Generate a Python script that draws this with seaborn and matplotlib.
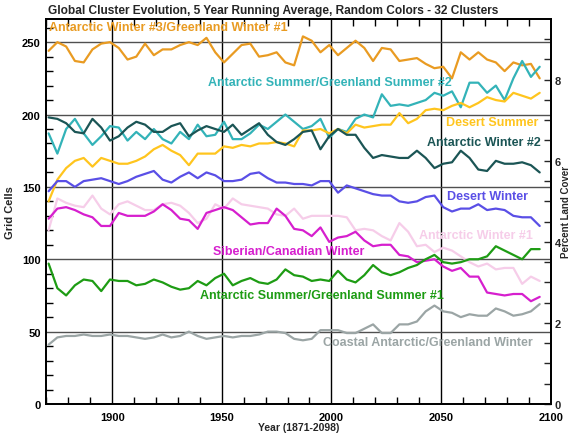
import numpy as np
import pandas as pd
import matplotlib.pyplot as plt
import seaborn as sns
from matplotlib.ticker import MultipleLocator

# Data (every 4 years)
years = np.arange(1871, 2096, 4)

aw3_gw1 = [244, 250, 247, 237, 236, 245, 249, 250, 246, 238, 240, 249, 241, 245, 245, 248,
           250, 248, 253, 243, 236, 242, 248, 249, 240, 241, 243, 236, 234, 254, 251, 243,
           248, 241, 246, 251, 246, 237, 246, 245, 237, 238, 239, 235, 232, 233, 225, 243,
           238, 243, 238, 236, 230, 236, 234, 235, 225]
as_gs2 = [187, 173, 190, 197, 187, 179, 185, 192, 191, 182, 188, 183, 190, 183, 180, 188,
          183, 193, 185, 186, 195, 183, 183, 187, 193, 190, 195, 200, 195, 190, 192, 197,
          184, 190, 188, 197, 200, 198, 214, 206, 207, 206, 208, 210, 215, 213, 216, 205,
          222, 222, 215, 220, 210, 225, 237, 226, 233]
desert_summer = [140, 155, 163, 168, 170, 164, 170, 168, 166, 166, 168, 171, 176, 179, 175, 172,
                 165, 173, 173, 173, 178, 177, 179, 178, 180, 180, 181, 180, 178, 189, 189, 190,
                 187, 190, 187, 193, 191, 192, 193, 193, 201, 194, 197, 203, 204, 203, 206, 208,
                 205, 208, 212, 210, 209, 215, 213, 211, 215]
aw2 = [198, 197, 194, 188, 187, 197, 191, 182, 185, 191, 195, 193, 188, 188, 192, 194,
       185, 189, 192, 190, 188, 193, 186, 190, 194, 186, 181, 179, 183, 188, 189, 176,
       185, 190, 186, 186, 177, 170, 172, 171, 170, 170, 175, 170, 163, 166, 167, 175,
       170, 162, 161, 168, 166, 166, 167, 165, 160]
desert_winter = [147, 154, 154, 150, 154, 155, 156, 154, 152, 154, 157, 159, 161, 155, 153, 157,
                 160, 156, 160, 158, 154, 154, 155, 159, 160, 156, 153, 153, 152, 152, 151, 154,
                 154, 146, 151, 149, 147, 145, 144, 144, 140, 139, 140, 143, 144, 136, 133, 135,
                 135, 138, 134, 135, 134, 130, 129, 129, 123]
aw1 = [120, 142, 139, 137, 136, 144, 135, 131, 138, 140, 137, 134, 134, 138, 139, 137,
       132, 125, 128, 138, 135, 142, 138, 137, 136, 135, 131, 130, 135, 128, 130, 130,
       130, 130, 129, 120, 121, 120, 116, 113, 125, 119, 109, 110, 105, 108, 106, 102,
       98, 95, 97, 93, 94, 94, 83, 88, 85]
sib_can = [128, 135, 136, 134, 131, 129, 123, 123, 132, 130, 130, 130, 133, 138, 134, 128,
           127, 121, 132, 134, 136, 134, 129, 124, 125, 125, 135, 130, 121, 120, 116, 122,
           112, 115, 116, 119, 113, 109, 110, 110, 103, 102, 98, 99, 100, 95, 92, 94,
           88, 88, 77, 76, 75, 76, 76, 71, 74]
as_gs1 = [97, 80, 75, 82, 86, 85, 78, 86, 85, 85, 82, 83, 86, 84, 81, 79,
          80, 85, 82, 87, 90, 82, 85, 87, 84, 83, 86, 93, 89, 88, 85, 86,
          85, 92, 86, 84, 89, 96, 91, 89, 91, 94, 96, 100, 103, 98, 97, 98,
          100, 100, 102, 109, 106, 103, 100, 107, 107]
coastal = [41, 46, 47, 47, 48, 47, 47, 48, 47, 47, 46, 45, 46, 48, 46, 47,
           50, 47, 45, 46, 47, 46, 47, 47, 48, 50, 50, 49, 45, 44, 45, 51,
           51, 51, 49, 49, 52, 55, 49, 49, 55, 55, 57, 64, 68, 64, 63, 60,
           62, 61, 61, 66, 64, 61, 62, 64, 69]

names = ["Antarctic Winter #3/Greenland Winter #1",
         "Antarctic Summer/Greenland Summer #2",
         "Desert Summer",
         "Antarctic Winter #2",
         "Desert Winter",
         "Antarctic Winter #1",
         "Siberian/Canadian Winter",
         "Antarctic Summer/Greenland Summer #1",
         "Coastal Antarctic/Greenland Winter"]
values = [aw3_gw1, as_gs2, desert_summer, aw2, desert_winter, aw1, sib_can, as_gs1, coastal]
colors = ["#E99B22", "#33B3B8", "#FFC51E", "#1B5555", "#5A4FE6",
          "#F6CDE9", "#D61FCE", "#1E9C14", "#9BA5A5"]

# label placement (x year, y cells, alignment)
label_pos = [(1871, 260.5, "left"), (1943.5, 222.5, "left"), (2094.5, 195, "right"),
             (2095.5, 181, "right"), (2052.5, 143.5, "left"), (2040, 116.5, "left"),
             (1946, 105.5, "left"), (1940, 75.5, "left"), (1996, 43, "left")]

rows = []
for n, v in zip(names, values):
    for yr, c in zip(years, v):
        rows.append((n, yr, c))
df = pd.DataFrame(rows, columns=["cluster", "year", "cells"])

sns.set_style("ticks")
plt.rcParams["font.family"] = ["Liberation Sans", "DejaVu Sans"]
plt.rcParams["font.weight"] = "bold"

fig = plt.figure(figsize=(5.73, 4.35), dpi=100)
ax = fig.add_axes([0.081, 0.069, 0.880, 0.885])

ymax = 266
ax.set_xlim(1870, 2100)
ax.set_ylim(0, ymax)

# grid lines
for x in [1900, 1950, 2000, 2050]:
    ax.axvline(x, color="black", lw=1.0, zorder=1)
for y in [50, 100, 150, 200, 250]:
    ax.axhline(y, color="#505050", lw=1.0, zorder=1)

sns.lineplot(data=df, x="year", y="cells", hue="cluster", hue_order=names,
             palette=colors, linewidth=1.6, legend=False, ax=ax, zorder=3)

for n, c, (lx, ly, ha) in zip(names, colors, label_pos):
    ax.text(lx, ly, n, color=c, fontsize=9, fontweight="bold", ha=ha, va="center",
            clip_on=False, zorder=4)

ax.xaxis.set_major_locator(MultipleLocator(50))
ax.xaxis.set_minor_locator(MultipleLocator(10))
ax.yaxis.set_major_locator(MultipleLocator(50))
ax.yaxis.set_minor_locator(MultipleLocator(10))
ax.tick_params(which="both", direction="in", top=True, labelsize=8, width=1, colors="black")
ax.tick_params(which="major", length=0)
ax.tick_params(axis="x", which="major", pad=6)
ax.tick_params(axis="y", which="major", pad=4)
ax.tick_params(which="minor", length=5)
ax.set_xticks([1900, 1950, 2000, 2050, 2100])
for t in ax.get_xticklabels() + ax.get_yticklabels():
    t.set_fontweight("bold")

ax.set_xlabel("Year (1871-2098)", fontsize=7.5, fontweight="bold", labelpad=0)
ax.set_ylabel("Grid Cells", fontsize=8, fontweight="bold")
ax.yaxis.set_label_coords(-0.063, 0.5)
ax.set_title("Global Cluster Evolution, 5 Year Running Average, Random Colors - 32 Clusters",
             fontsize=8.6, fontweight="bold", pad=4, x=0.45)

ax2 = ax.twinx()
ax2.set_ylim(0, ymax * 0.0357)
ax2.yaxis.set_major_locator(MultipleLocator(2))
ax2.yaxis.set_minor_locator(MultipleLocator(0.5))
ax2.tick_params(which="both", direction="in", labelsize=8, width=1)
ax2.tick_params(which="major", length=5, pad=3)
ax2.tick_params(which="minor", length=5)
for t in ax2.get_yticklabels():
    t.set_fontweight("bold")
ax2.set_ylabel("Percent Land Cover", fontsize=7, fontweight="bold",
               rotation=90, ha="center", va="center")
ax2.yaxis.set_label_coords(1.031, 0.5)

for a in (ax, ax2):
    for s in a.spines.values():
        s.set_linewidth(1.3)
        s.set_color("black")

fig.savefig("out.png", dpi=100)
